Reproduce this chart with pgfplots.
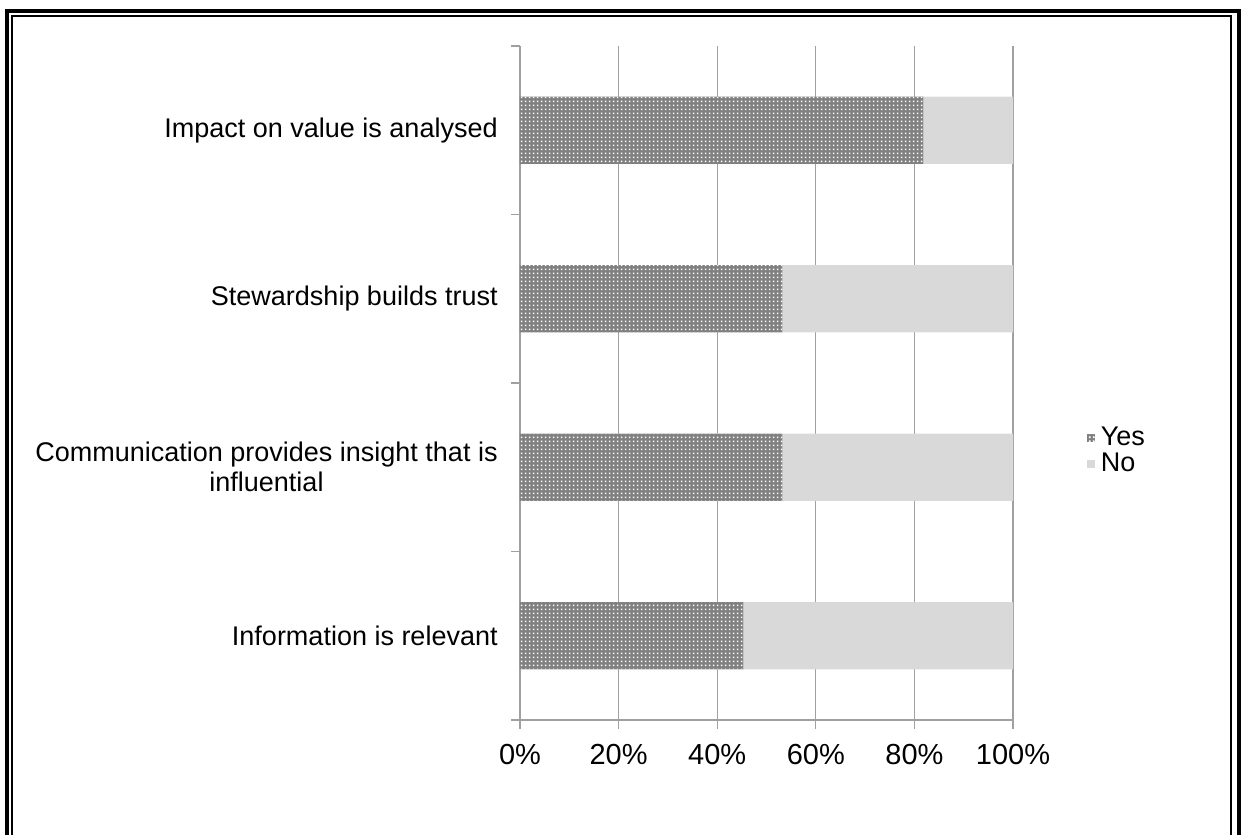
\documentclass[border=0pt]{standalone}
\usepackage{pgfplots}
\pgfplotsset{compat=1.18}
\usepackage{fontspec}
\setmainfont{Liberation Sans}
\usetikzlibrary{patterns}
\definecolor{lineGray}{RGB}{160,160,160}
\definecolor{barGray}{RGB}{128,128,128}
\definecolor{noGray}{RGB}{217,217,217}
\pgfdeclarepatternformonly{meshdots}{\pgfpointorigin}{\pgfpoint{2pt}{2pt}}{\pgfpoint{2pt}{2pt}}{%
  \pgfpathrectangle{\pgfpoint{0.5pt}{0.5pt}}{\pgfpoint{1pt}{1pt}}\pgfusepath{fill}}
\begin{document}
\fontsize{13.5}{15}\selectfont
\begin{tikzpicture}
\path[use as bounding box] (0,0) rectangle (621pt,417.5pt);
\begin{scope}[x=0.5pt,y=-0.5pt,yshift=417.5pt]
  \draw[line width=2pt] (7,840) -- (7,11) -- (1238.5,11) -- (1238.5,840);
  \draw[line width=0.8pt] (12,840) -- (12,16) -- (1231,16) -- (1231,840);
\end{scope}
\begin{axis}[
  at={(260pt,57.5pt)}, anchor=south west, scale only axis,
  width=246.5pt, height=337pt,
  xbar stacked, bar width=0.4,
  xmin=0, xmax=100, ymin=-0.5, ymax=3.5,
  axis x line*=bottom, axis y line*=left,
  axis line style={draw=lineGray, line width=0.6pt},
  xtick={0,20,40,60,80,100},
  xticklabels={0\%,20\%,40\%,60\%,80\%,100\%},
  xticklabel style={yshift=-3pt, font=\fontsize{14.5}{16}\selectfont},
  xmajorgrids, major grid style={draw=lineGray, line width=0.6pt},
  tick align=outside, major tick length=4.5pt,
  xtick style={draw=lineGray, line width=0.6pt},
  ytick={0,1,2,3},
  yticklabels={Information is relevant,{Communication provides insight that is\\influential},Stewardship builds trust,Impact on value is analysed},
  yticklabel style={align=center, xshift=-2pt},
  ytick style={draw=none},
  extra y ticks={-0.5,0.5,1.5,2.5,3.5},
  extra y tick labels={},
  extra y tick style={ytick style={draw=lineGray, line width=0.6pt}, grid=none},
  legend style={at={(1.149,0.399)}, anchor=west, draw=none, fill=none, row sep=0pt, inner sep=0pt,
    nodes={inner xsep=1.5pt, inner ysep=0.5pt, text height=9.5pt, text depth=2.3pt}},
  legend cell align=left,
  legend image code/.code={\path[#1] (0pt,-2pt) rectangle (4pt,2pt); \path (5.5pt,0pt);},
]
\addplot[draw=none, preaction={fill=barGray}, pattern=meshdots, pattern color=white]
  coordinates {(45.3,0) (53.2,1) (53.2,2) (81.8,3)};
\addplot[draw=none, fill=noGray]
  coordinates {(54.7,0) (46.8,1) (46.8,2) (18.2,3)};
\legend{Yes,No}
\end{axis}
\end{tikzpicture}
\end{document}
